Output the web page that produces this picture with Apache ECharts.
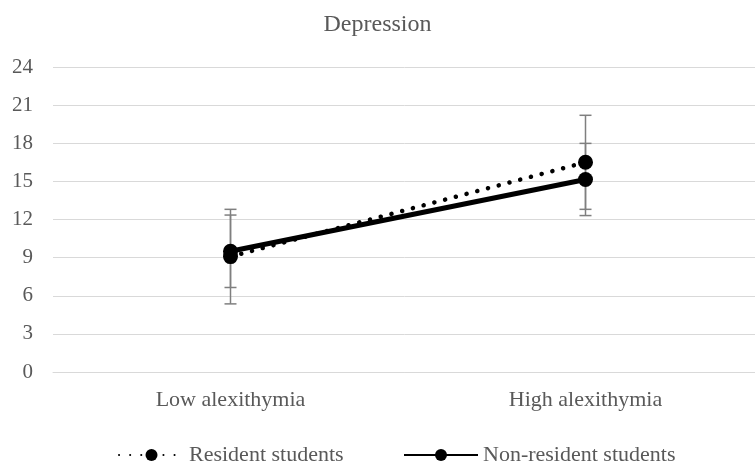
<!DOCTYPE html>
<html><head><meta charset="utf-8">
<script src="https://cdn.jsdelivr.net/npm/echarts@6/dist/echarts.min.js"></script>
<style>html,body{margin:0;padding:0;background:#fff}#c{width:755px;height:464px}</style>
</head><body><div id="c"></div>
<script>
const categories = ['Low alexithymia', 'High alexithymia'];
const residentMeans = [9.08, 16.5];
const residentErr = [3.72, 3.7];
const nonResidentMeans = [9.5, 15.15];
const nonResidentErr = [2.85, 2.84];
const yTicks = [0, 3, 6, 9, 12, 15, 18, 21, 24];

const FONT = 'Liberation Serif';
const TXT = '#595959';

function errData(means, errs) {
  return means.map((m, i) => [i, m - errs[i], m + errs[i]]);
}
function errRender(params, api) {
  const x = api.value(0);
  const lo = api.coord([x, api.value(1)]);
  const hi = api.coord([x, api.value(2)]);
  const cw = 6;
  const st = { stroke: '#7f7f7f', lineWidth: 1.5 };
  return { type: 'group', children: [
    { type: 'line', shape: { x1: lo[0], y1: lo[1], x2: hi[0], y2: hi[1] }, style: st },
    { type: 'line', shape: { x1: lo[0]-cw, y1: lo[1], x2: lo[0]+cw, y2: lo[1] }, style: st },
    { type: 'line', shape: { x1: hi[0]-cw, y1: hi[1], x2: hi[0]+cw, y2: hi[1] }, style: st }
  ]};
}

const chart = echarts.init(document.getElementById('c'), null, { renderer: 'canvas' });
chart.setOption({
  animation: false,
  backgroundColor: '#fff',
  title: { text: 'Depression', left: 'center', top: 8,
    textStyle: { fontFamily: FONT, fontSize: 24, fontWeight: 'normal', color: TXT } },
  grid: { left: 53, right: -8, top: 67, bottom: 92, containLabel: false, outerBoundsMode: 'none' },
  xAxis: { type: 'category', data: categories,
    axisLine: { show: true, lineStyle: { color: '#d9d9d9', width: 1 } },
    axisTick: { show: false },
    axisLabel: { fontFamily: FONT, fontSize: 22, color: TXT, margin: 17 } },
  yAxis: { type: 'value', min: yTicks[0], max: yTicks[yTicks.length-1], interval: 3,
    axisLine: { show: false }, axisTick: { show: false },
    axisLabel: { fontFamily: FONT, fontSize: 21, color: TXT, margin: 20 },
    splitLine: { lineStyle: { color: '#d9d9d9', width: 1 } } },
  legend: [
    { data: ['Resident students'], left: 113, top: 439, itemWidth: 65, itemHeight: 15, itemGap: 10,
      textStyle: { fontFamily: FONT, fontSize: 22, color: TXT } },
    { data: ['Non-resident students'], left: 398, top: 439, itemWidth: 74, itemHeight: 15, itemGap: 2,
      textStyle: { fontFamily: FONT, fontSize: 22, color: TXT } }
  ],
  series: [
    { type: 'custom', name: 'err1', renderItem: errRender, data: errData(residentMeans, residentErr), z: 1, silent: true },
    { type: 'custom', name: 'err2', renderItem: errRender, data: errData(nonResidentMeans, nonResidentErr), z: 1, silent: true },
    { type: 'line', name: 'Resident students', data: residentMeans, z: 3,
      symbol: 'circle', symbolSize: 15, color: '#000',
      itemStyle: { color: '#000' },
      lineStyle: { color: '#000', width: 4.5, type: [0.1, 11], cap: 'round' } },
    { type: 'line', name: 'Non-resident students', data: nonResidentMeans, z: 4,
      symbol: 'circle', symbolSize: 15, color: '#000',
      itemStyle: { color: '#000' },
      lineStyle: { color: '#000', width: 5 } }
  ]
});
</script></body></html>
